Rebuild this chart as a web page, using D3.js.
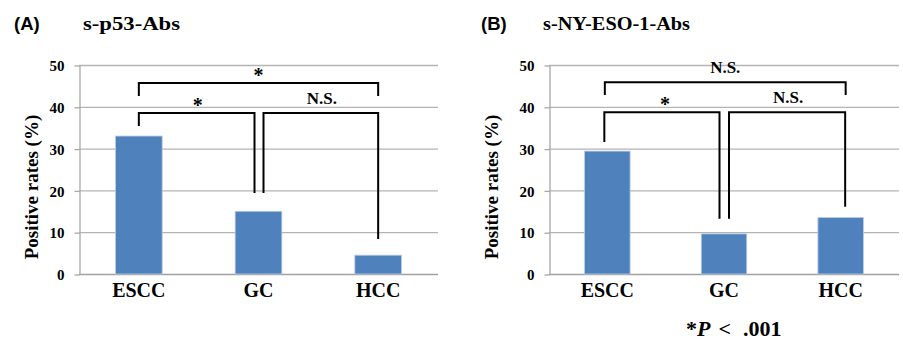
<!DOCTYPE html>
<html>
<head>
<meta charset="utf-8">
<script src="https://cdn.jsdelivr.net/npm/d3@7"></script>
<style>
  body { margin: 0; background: #fff; }
  text { font-weight: bold; fill: #000; }
</style>
</head>
<body>
<svg id="chart" width="903" height="341"></svg>
<script>
// data
var categories = ["ESCC", "GC", "HCC"];
var p53Values = [33, 15, 4.5];
var nyEsoValues = [29.4, 9.6, 13.5];
var yTicks = [0, 10, 20, 30, 40, 50];
var pairLabelsA = ["*", "*", "N.S."];      // ESCC-HCC, ESCC-GC, GC-HCC
var pairLabelsB = ["N.S.", "*", "N.S."];

var serif = "'Liberation Serif', 'Times New Roman', serif";
var svg = d3.select("#chart");

class Panel {
  constructor(opts) {
    this.o = opts;
    this.g = svg.append("g").style("font-family", serif);
    this.y = d3.scaleLinear().domain([0, 50]).range([274, 65]);
    this.x = d3.scaleBand().domain(categories).range([opts.x0, opts.x1])
      .paddingInner(0.61).paddingOuter(0.305);
  }
  draw() {
    var o = this.o, x = this.x, y = this.y, g = this.g;

    // gridlines
    g.selectAll(".grid").data(yTicks).enter().append("line")
      .attr("x1", o.x0).attr("x2", o.x1)
      .attr("y1", d => y(d) + 0.5).attr("y2", d => y(d) + 0.5)
      .attr("stroke", d => d == 0 ? "#a0a0a0" : "#b4b4b4").attr("stroke-width", 1.3);

    // y axis
    var ya = g.append("g").attr("transform", "translate(" + (o.x0 + 0.5) + ",0.5)")
      .call(d3.axisLeft(y).tickValues(yTicks).tickSize(5).tickPadding(10).tickSizeOuter(0));
    ya.select(".domain").attr("stroke", "#a8a8a8").attr("stroke-width", 1.3);
    ya.selectAll(".tick line").attr("stroke", "#a8a8a8").attr("stroke-width", 1.3);
    ya.selectAll("text").style("font-family", serif).style("font-weight", "bold")
      .attr("font-size", 15).attr("fill", "#000").attr("dy", "0.34em");

    // bars
    g.selectAll(".bar").data(o.values).enter().append("rect")
      .attr("x", (d, i) => x(categories[i]))
      .attr("width", x.bandwidth())
      .attr("y", d => y(d))
      .attr("height", d => y(0) - y(d))
      .attr("fill", "#4f81bd")
      .attr("stroke", "#b9cbe3").attr("stroke-width", 0.8);

    // category axis
    var xa = g.append("g").attr("transform", "translate(0," + y(0) + ")")
      .call(d3.axisBottom(x).tickSize(0).tickPadding(9));
    xa.select(".domain").remove();
    xa.selectAll("text").style("font-family", serif).style("font-weight", "bold")
      .attr("font-size", 20).attr("fill", "#000");

    // y title
    g.append("text")
      .attr("transform", "translate(" + o.titleX + ",187) rotate(-90)")
      .attr("text-anchor", "middle").attr("font-size", 19)
      .text("Positive rates (%)");

    // panel letter + title
    g.append("text").attr("x", o.letterX).attr("y", 30)
      .style("font-family", "'Liberation Sans', Arial, sans-serif").attr("font-size", 18.5)
      .text(o.letter);
    g.append("text").attr("x", o.nameX).attr("y", 30).attr("font-size", 19)
      .attr("textLength", o.nameW).attr("lengthAdjust", "spacingAndGlyphs")
      .text(o.name);

    this.drawBrackets();
  }
  drawBrackets() {
    var o = this.o, x = this.x, y = this.y, g = this.g;
    var cx = c => x(c) + x.bandwidth() / 2;
    o.brackets.forEach((b, i) => {
      var xa = cx(categories[b.from]) + b.dx[0], xb = cx(categories[b.to]) + b.dx[1];
      var top = y(b.level);
      var path = d3.path();
      path.moveTo(xa, y(b.legs[0]));
      path.lineTo(xa, top);
      path.lineTo(xb, top);
      path.lineTo(xb, y(b.legs[1]));
      g.append("path").attr("d", path.toString())
        .attr("fill", "none").attr("stroke", "#000").attr("stroke-width", 2);
      var lbl = o.labels[i];
      g.append("text")
        .attr("x", (xa + xb) / 2 + b.lx)
        .attr("y", top + (lbl == "*" ? -1 : -9))
        .attr("text-anchor", "middle")
        .attr("font-size", lbl == "*" ? 20 : 17)
        .text(lbl);
    });
  }
}

var pA = new Panel({
  x0: 79, x1: 438, values: p53Values, letter: "(A)", name: "s-p53-Abs", nameW: 97,
  letterX: 14, nameX: 83, titleX: 38, labels: pairLabelsA,
  brackets: [
    {from: 0, to: 2, level: 45.7, legs: [42.6, 42.6], dx: [0, 0], lx: 0},
    {from: 0, to: 1, level: 38.5, legs: [35.4, 19.4], dx: [0, -4], lx: 1},
    {from: 1, to: 2, level: 38.5, legs: [19.4, 8.4], dx: [5, 0], lx: 1}
  ]
});
pA.draw();

var pB = new Panel({
  x0: 549, x1: 899, values: nyEsoValues, letter: "(B)", name: "s-NY-ESO-1-Abs", nameW: 147,
  letterX: 481, nameX: 543, titleX: 498, labels: pairLabelsB,
  brackets: [
    {from: 0, to: 2, level: 45.9, legs: [42.8, 42.8], dx: [-2.5, 5], lx: 0},
    {from: 0, to: 1, level: 38.7, legs: [31.6, 13.2], dx: [-3, -4.5], lx: 3},
    {from: 1, to: 2, level: 38.7, legs: [13.2, 16.1], dx: [5, 4.5], lx: 1}
  ]
});
pB.draw();

// footnote
var fn = svg.append("text").attr("x", 686).attr("y", 336).attr("font-size", 22)
  .style("font-family", serif);
fn.append("tspan").text("*");
fn.append("tspan").attr("font-style", "italic").text("P");
fn.append("tspan").attr("dx", 8).text("<");
fn.append("tspan").attr("dx", 12).text(".001");
</script>
</body>
</html>
